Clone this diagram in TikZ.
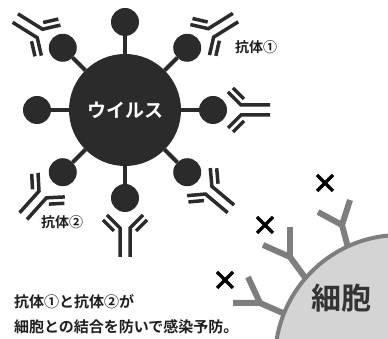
\documentclass[tikz,border=0pt]{standalone}
\usepackage{fontspec}
\newfontfamily\jp{Noto Sans CJK JP}[BoldFont={Noto Sans CJK JP Bold}]
\definecolor{virus}{HTML}{2B2B2B}
\definecolor{cellfill}{HTML}{D4D4D4}
\definecolor{cellline}{HTML}{7E7E7E}

\begin{document}
\begin{tikzpicture}[x=1pt, y=1pt]
\tikzset{ inner sep=0pt, outer sep=0pt,
  spike/.style={line width=4pt, virus},
  chain/.style={line width=3.5pt, virus},
  recep/.style={line width=6pt, cellline},
  cross/.style={line width=3.4pt, black},
  jptext/.style={font=\jp\bfseries\fontsize{#1}{#1}\selectfont, text=black!88},
  antibody/.pic={
    \draw [chain] (-5,-29) -- (-5,0) -- (-18,13);
    \draw [chain] ( 5,-29) -- ( 5,0) -- ( 18,13);
    \draw [chain] (-11,-3) -- (-22,8);
    \draw [chain] ( 11,-3) -- ( 22,8);
  },
  crossmark/.pic={
    \draw [cross] (-8,-8) -- (8,8) (-8,8) -- (8,-8);
  },
}
\path [use as bounding box, fill=white] (0,0) rectangle (388,339);
\clip (0,0) rectangle (388,339);

%% cell with its receptors
\draw [recep] (350,84) -- (342,114) -- (318,127);
\draw [recep] (342,114) -- (350,139);
\draw [recep] (312,52) -- (290,82) -- (263,94);
\draw [recep] (290,82) -- (290,112);
\draw [recep] (292,22) -- (260,36) -- (233,36);
\draw [recep] (260,36) -- (248,62);

\node [circle, fill=cellfill, draw=cellline, line width=4pt, minimum size=250pt] (cell) at (400,-21) {};
\node [jptext=30, text=black!80] at (341,41) {細胞};

%% blocked binding
\pic at (325,156) {crossmark};
\pic at (265,114) {crossmark};
\pic at (225,59)  {crossmark};

%% virus and spikes
\node [circle, fill=virus, minimum size=112pt] (V) at (125,229) {};
\foreach \a in {0,45,...,315} {
  \node [circle, fill=virus, minimum size=28pt] (B\a) at ([shift={(\a:88)}]V.center) {};
  \draw [spike] (V) -- (B\a);
}
\node [jptext=19, text=white] at (V) {ウイルス};

%% antibodies
\pic [rotate=238] at ([shift={(148:27)}]B135.center) {antibody};
\pic [rotate=122] at ([shift={(32:28)}]B45.center)   {antibody};
\pic [rotate=90]  at ([shift={(0:28)}]B0.center)     {antibody};
\pic [rotate=50]  at ([shift={(-40:28)}]B315.center) {antibody};
\pic [rotate=318] at ([shift={(228:30)}]B225.center) {antibody};
\pic [rotate=0]   at ([shift={(270:30)}]B270.center) {antibody};

\node [jptext=14] (L1) at (256,292) {抗体①};
\node [jptext=14] (L2) at (62,117)  {抗体②};

\node [jptext=15, anchor=west] at (14,37) {抗体①と抗体②が};
\node [jptext=15, anchor=west] at (14,12) {細胞との結合を防いで感染予防。};

\end{tikzpicture}
\end{document}
